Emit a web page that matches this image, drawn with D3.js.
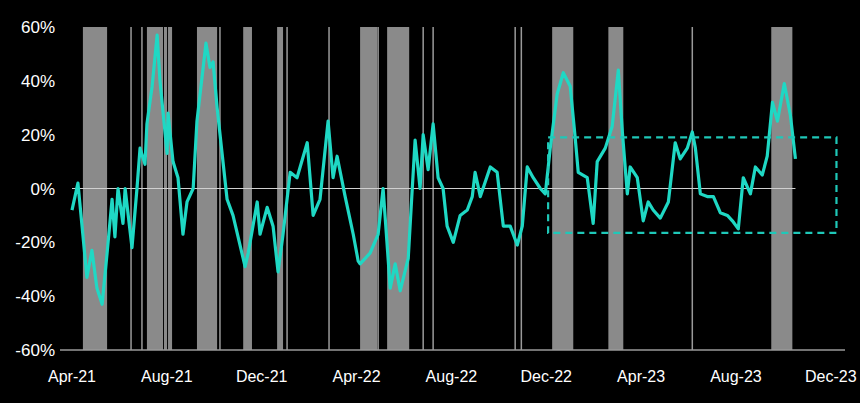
<!DOCTYPE html>
<html>
<head>
<meta charset="utf-8">
<script src="https://cdn.jsdelivr.net/npm/d3@7"></script>
<style>
  body { margin: 0; background: #000; }
  text { font-family: "Liberation Sans", Arial, sans-serif; fill: #fff; }
</style>
</head>
<body>
<svg width="860" height="403"></svg>
<script>
// x values are months since Apr-2021
const tickMonths = [0, 4, 8, 12, 16, 20, 24, 28, 32];
const tickLabels = ['Apr-21', 'Aug-21', 'Dec-21', 'Apr-22', 'Aug-22', 'Dec-22', 'Apr-23', 'Aug-23', 'Dec-23'];
const yTicks = [60, 40, 20, 0, -20, -40, -60];

const seriesMonths = [0, .25, .63, .84, 1.05, 1.27, 1.48, 1.69, 1.81, 1.94, 2.15, 2.24, 2.53, 2.74, 2.87, 3.08, 3.16, 3.38, 3.59, 3.71,
  4.01, 4.05, 4.26, 4.47, 4.68, 4.85, 5.11, 5.27, 5.65, 5.82, 5.95, 6.12, 6.33, 6.54, 6.79, 7.30, 7.43, 7.81, 7.93, 8.23,
  8.48, 8.69, 8.90, 9.20, 9.49, 9.92, 10.17, 10.46, 10.80, 11.01, 11.18, 11.52, 11.86, 12.07, 12.15, 12.57, 12.91, 13.12, 13.42, 13.63,
  13.84, 14.18, 14.35, 14.47, 14.68, 14.81, 15.02, 15.23, 15.44, 15.65, 15.82, 16.08, 16.37, 16.67, 16.88, 17.00, 17.22, 17.64, 17.93, 18.19,
  18.48, 18.78, 18.99, 19.20, 19.45, 19.75, 19.96, 20.17, 20.46, 20.72, 21.01, 21.22, 21.35, 21.73, 21.98, 22.15, 22.49, 22.78, 23.04, 23.21,
  23.42, 23.54, 23.84, 24.09, 24.30, 24.51, 24.81, 25.15, 25.44, 25.65, 25.95, 26.16, 26.29, 26.50, 26.79, 27.05, 27.34, 27.64, 27.85, 28.10,
  28.31, 28.61, 28.82, 29.11, 29.32, 29.54, 29.75, 30.04, 30.30, 30.51];
const seriesValues = [-8, 2, -33, -23, -37, -43, -24, -4, -18, 0, -13, 0, -22, 0, 15, 9, 24, 38, 57, 40,
  13, 28, 10, 4, -17, -5, 0, 25, 54, 45, 47, 30, 13, -4, -10, -29, -24, -5, -17, -7,
  -14, -31, -17, 6, 4, 17, -10, -4, 25, 4, 12, -3, -17, -27, -28, -24, -17, 0, -37, -28,
  -38, -26, 0, 18, 0, 20, 7, 24, 4, 0, -14, -20, -10, -8, -3, 6, -3, 8, 6, -14,
  -14, -21, -14, 8, 4, 0, -2, 15, 35, 43, 38, 19, 6, 4, -13, 10, 15, 23, 44, 21,
  -2, 8, 4, -12, -5, -8, -11, -5, 17, 11, 15, 21, 15, -2, -3, -3, -9, -10, -12, -15,
  4, -2, 8, 5, 12, 32, 25, 39, 27, 11];

// shaded periods [start, end]; thin ones are single dates
const shadeBands = [[.46, 1.48], [3.16, 3.84], [3.88, 4.01], [4.05, 4.22], [5.27, 6.12], [7.22, 7.59], [8.65, 8.90],
  [12.15, 12.87], [13.29, 14.22], [20.25, 21.14], [22.62, 23.25], [29.49, 30.38]];
const shadeLines = [2.49, 2.95, 6.24, 9.07, 10.84, 12.91, 14.81, 15.23, 18.69, 18.95, 26.16];

const boxMonths = [20.08, 32.24];
const boxValues = [19, -16.5];

const svg = d3.select('svg');
const x = d3.scaleLinear().domain([0, 32.6]).range([72, 845]);
const y = d3.scaleLinear().domain([-60, 60]).range([350, 27]);

svg.append('g').selectAll('rect').data(shadeBands).enter().append('rect')
  .attr('x', d => x(d[0])).attr('width', d => x(d[1]) - x(d[0]))
  .attr('y', y(60)).attr('height', y(-60) - y(60))
  .attr('fill', '#8a8a8a');

svg.append('g').selectAll('line').data(shadeLines).enter().append('line')
  .attr('x1', d => x(d)).attr('x2', d => x(d))
  .attr('y1', y(60)).attr('y2', y(-60))
  .attr('stroke', '#9a9a9a').attr('stroke-width', 1.5);

svg.append('line')
  .attr('x1', x(0)).attr('x2', x(seriesMonths[seriesMonths.length - 1]))
  .attr('y1', y(0)).attr('y2', y(0))
  .attr('stroke', '#d0d0d0').attr('stroke-width', 1.2);

const pts = seriesMonths.map((m, i) => [m, seriesValues[i]]);
svg.append('path').datum(pts)
  .attr('fill', 'none').attr('stroke', '#1fd8c4').attr('stroke-width', 3.2)
  .attr('stroke-linejoin', 'round')
  .attr('d', d3.line().x(d => x(d[0])).y(d => y(d[1])));

svg.append('rect')
  .attr('x', x(boxMonths[0])).attr('width', x(boxMonths[1]) - x(boxMonths[0]))
  .attr('y', y(boxValues[0])).attr('height', y(boxValues[1]) - y(boxValues[0]))
  .attr('fill', 'none').attr('stroke', '#1fc8b8').attr('stroke-width', 2.2)
  .attr('stroke-dasharray', '7,5');

svg.append('line')
  .attr('x1', 60).attr('x2', 845).attr('y1', y(-60)).attr('y2', y(-60))
  .attr('stroke', '#9a9a9a').attr('stroke-width', 1.5);

svg.append('g').selectAll('text').data(yTicks).enter().append('text')
  .attr('x', 55).attr('y', d => y(d) + 6)
  .attr('text-anchor', 'end').attr('font-size', 17)
  .text(d => d + '%');

svg.append('g').selectAll('text').data(tickMonths).enter().append('text')
  .attr('x', d => x(d)).attr('y', 382)
  .attr('text-anchor', 'middle').attr('font-size', 16)
  .text((d, i) => tickLabels[i]);
</script>
</body>
</html>
